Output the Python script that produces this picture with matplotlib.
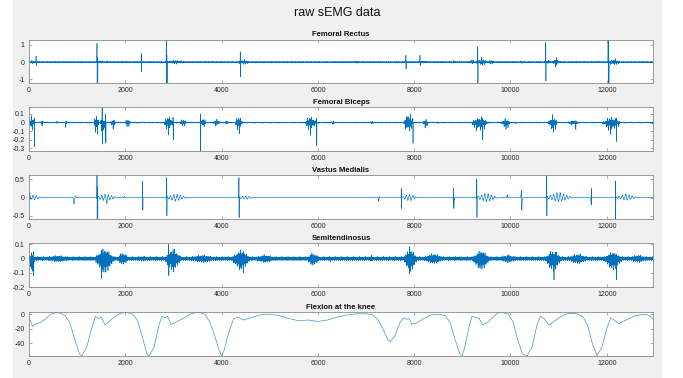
import numpy as np
import matplotlib
matplotlib.use("Agg")
import matplotlib.pyplot as plt
from matplotlib.patches import Rectangle
from matplotlib.ticker import FuncFormatter

plt.rcParams["font.family"] = ["Liberation Sans", "DejaVu Sans"]
plt.rcParams["axes.unicode_minus"] = False

# ---- data ----
n_samples = 12960
step = 4

titles = ["Femoral Rectus", "Femoral Biceps", "Vastus Medialis",
          "Semitendinosus", "Flexion at the knee"]

# bursts: (centre sample, half width, upper amplitude, lower amplitude)
rectus_bursts = [
    (60, 60, 0.12, 0.12), (1480, 80, 0.15, 0.12),
    (1638, 20, 0.15, 0.12), (1950, 20, 0.12, 0.08), (2048, 15, 0.1, 0.08),
    (2490, 15, 0.08, 0.08), (3050, 250, 0.15, 0.12), (4450, 150, 0.2, 0.2),
    (5400, 15, 0.05, 0.05), (6800, 150, 0.08, 0.08), (7330, 15, 0.06, 0.06),
    (7610, 15, 0.07, 0.07), (8200, 100, 0.12, 0.12), (8830, 40, 0.15, 0.15),
    (9200, 60, 0.25, 0.2), (9400, 150, 0.3, 0.25), (9600, 100, 0.15, 0.15),
    (10230, 20, 0.12, 0.12), (10800, 60, 0.2, 0.15), (10950, 80, 0.35, 0.35),
    (11500, 20, 0.06, 0.06), (11800, 20, 0.1, 0.1), (12150, 150, 0.25, 0.25),
]
# spikes: (sample, upper value, lower value)
rectus_spikes = [
    (146, 0.35, 0.2), (1412, 1.1, 1.25), (1424, 0.3, 1.25), (2330, 0.5, 0.55),
    (2850, 1.3, 1.25), (2862, 0.4, 1.25), (4386, 0.6, 0.85), (7826, 0.4, 0.4),
    (8120, 0.4, 0.2), (9320, 0.9, 1.25), (10730, 1.15, 1.1), (12026, 1.35, 1.25),
    (12038, 1.35, 1.25),
]

biceps_bursts = [
    (60, 60, 0.1, 0.12), (270, 40, 0.04, 0.04), (580, 20, 0.03, 0.03),
    (770, 20, 0.04, 0.08), (1400, 60, 0.12, 0.2), (1520, 40, 0.17, 0.25),
    (1580, 20, 0.1, 0.25), (1750, 70, 0.05, 0.08), (2050, 70, 0.05, 0.07),
    (2270, 20, 0.02, 0.03), (2900, 110, 0.1, 0.15), (3200, 100, 0.05, 0.05),
    (3620, 60, 0.08, 0.1), (3900, 90, 0.05, 0.05), (4100, 50, 0.04, 0.04),
    (4360, 90, 0.1, 0.15), (5850, 130, 0.1, 0.15), (6320, 20, 0.03, 0.1),
    (7130, 20, 0.04, 0.04), (7880, 110, 0.15, 0.18), (8230, 70, 0.05, 0.1),
    (8500, 20, 0.02, 0.03), (9360, 200, 0.08, 0.15), (9900, 120, 0.05, 0.1),
    (10100, 20, 0.02, 0.03), (10880, 110, 0.1, 0.15), (11300, 150, 0.03, 0.04),
    (12100, 210, 0.08, 0.15), (12950, 10, 0.02, 0.05),
]
biceps_spikes = [
    (110, 0.05, 0.28), (1520, 0.17, 0.25), (1590, 0.1, 0.24), (2990, 0.06, 0.2),
    (3560, 0.1, 0.33), (5970, 0.05, 0.27), (7970, 0.05, 0.24), (9420, 0.05, 0.2),
    (11350, 0.02, 0.08), (12200, 0.05, 0.22),
]

medialis_bursts = [
    (100, 150, 0.08, 0.07), (940, 40, 0.12, 0.22), (1600, 250, 0.1, 0.1),
    (1620, 15, 0.1, 0.25), (1980, 20, 0.05, 0.1), (3050, 250, 0.1, 0.1),
    (4500, 200, 0.05, 0.05), (7270, 20, 0.1, 0.2), (7900, 180, 0.1, 0.1),
    (8820, 20, 0.25, 0.3), (9500, 250, 0.12, 0.12), (9930, 15, 0.2, 0.1),
    (10230, 20, 0.2, 0.35), (11000, 300, 0.15, 0.12), (11680, 15, 0.25, 0.2),
    (12400, 250, 0.1, 0.08),
]
medialis_spikes = [
    (15, 0.15, 0.05), (1412, 0.62, 0.6), (1424, 0.3, 0.6), (2360, 0.45, 0.35),
    (2860, 0.55, 0.5), (4360, 0.55, 0.55), (7730, 0.25, 0.3), (8820, 0.25, 0.3),
    (9300, 0.5, 0.55), (10230, 0.2, 0.35), (10750, 0.62, 0.5), (11680, 0.25, 0.2),
    (12180, 0.45, 0.6),
]

semiten_bursts = [
    (60, 60, 0.05, 0.12), (600, 500, 0.025, 0.025), (1570, 230, 0.08, 0.12),
    (1950, 150, 0.05, 0.05), (2350, 300, 0.02, 0.02), (2990, 200, 0.08, 0.1),
    (3600, 450, 0.03, 0.03), (4400, 230, 0.065, 0.09), (4900, 350, 0.03, 0.03),
    (5900, 170, 0.045, 0.055), (6270, 40, 0.02, 0.03), (7120, 80, 0.025, 0.025),
    (7920, 170, 0.075, 0.1), (8400, 300, 0.04, 0.04), (9390, 220, 0.065, 0.09),
    (9950, 300, 0.03, 0.03), (10890, 200, 0.07, 0.1), (11400, 300, 0.04, 0.04),
    (12130, 230, 0.055, 0.09), (12650, 300, 0.03, 0.03),
]
semiten_spikes = [
    (90, 0.05, 0.12), (1500, 0.06, 0.14), (2900, 0.1, 0.12), (4450, 0.05, 0.1),
    (7900, 0.085, 0.11), (10900, 0.03, 0.15), (12200, 0.03, 0.15),
]

# per-sample carrier shapes (typed, cycled along the signal)
emg_pattern = [0.15, -0.3, 0.1, -0.2, 0.45, -0.1, 0.25, -0.65, 0.05, -0.15,
               0.3, -0.1, 1.0, -0.4, 0.2, -0.05, 0.12, -0.85, 0.35, -0.2,
               0.08, -0.25, 0.6, -0.12, 0.18, -0.3, 0.05, -1.0, 0.4, -0.15,
               0.22, -0.08, 0.75, -0.5, 0.1, -0.2, 0.3, -0.06, 0.15, -0.35, 0.5]
semi_pattern = [0.35, -0.6, 0.2, -0.45, 0.8, -0.3, 0.5, -1.0, 0.25, -0.4,
                0.6, -0.2, 1.0, -0.7, 0.4, -0.15, 0.3, -0.85, 0.55, -0.35,
                0.15, -0.5, 0.7, -0.25, 0.45, -0.55, 0.1, -0.9, 0.65, -0.3, 0.4]
wave_pattern = [0.0, 0.35, 0.65, 0.9, 1.0, 0.9, 0.65, 0.35, 0.0,
                -0.35, -0.65, -0.9, -1.0, -0.9, -0.65, -0.35, -0.1]

knee_x = [0, 80, 150, 250, 350, 450, 550, 650, 750, 850, 950, 1050, 1100, 1200,
          1300, 1380, 1450, 1500, 1580, 1650, 1750, 1850, 1950, 2050, 2150,
          2250, 2350, 2450, 2500, 2600, 2700, 2760, 2830, 2880, 2950, 3050,
          3200, 3350, 3450, 3550, 3650, 3750, 3850, 3950, 4000, 4050, 4150,
          4250, 4350, 4450, 4600, 4800, 5000, 5200, 5400, 5600, 5800, 6000,
          6200, 6400, 6600, 6800, 7000, 7150, 7250, 7350, 7450, 7500, 7600,
          7700, 7780, 7850, 7900, 7950, 8050, 8200, 8350, 8500, 8650, 8750,
          8850, 8950, 9000, 9050, 9150, 9200, 9300, 9350, 9420, 9550, 9650,
          9750, 9850, 9950, 10050, 10150, 10250, 10350, 10450, 10550, 10620,
          10700, 10800, 10900, 11050, 11200, 11350, 11500, 11600, 11700, 11800,
          11900, 12000, 12080, 12150, 12250, 12400, 12600, 12800, 12900, 12960]
knee_y = [-5, -17, -13, -11, -6, 0, 2, 1.5, -2, -12, -35, -55, -57, -45,
          -20, -3, -6, -4, -15, -11, -5, 0, 2, 2, 0,
          -8, -30, -55, -57, -45, -15, -3, -5, -3, -14, -11,
          -6, 0, 2, 2, 0, -10, -28, -50, -57, -50, -25,
          -6, -4, -8, -5, -1, 0, -2, -6, -9, -8, -10,
          -8, -4, -1, 0.5, 0.5, -1, -8, -20, -35, -38, -30,
          -12, -5, -7, -6, -14, -12, -6, -1, 0, -2, -12,
          -35, -55, -57, -45, -15, -3, -5, -6, -15, -10, -3,
          2, 2, 0, -10, -35, -55, -57, -45, -15, -3,
          -6, -15, -10, -3, 1, 1, -3, -15, -40, -57,
          -45, -20, -5, -8, -13, -8, -2, 0, -3, -7]

y_limits = [(-1.2, 1.32), (-0.33, 0.18), (-0.59, 0.62), (-0.2, 0.11), (-57.5, 3)]
y_ticks = [[-1, 0, 1], [-0.3, -0.2, -0.1, 0, 0.1], [-0.5, 0, 0.5],
           [-0.2, -0.1, 0, 0.1], [-40, -20, 0]]
x_ticks = [0, 2000, 4000, 6000, 8000, 10000, 12000]


def build_signal(t, bursts, spikes, base, pattern):
    upper = np.full(t.shape, base)
    lower = np.full(t.shape, base)
    for c, w, a_up, a_dn in bursts:
        shape = np.clip(1 - np.abs(t - c) / w, 0, 1)
        upper = np.maximum(upper, a_up * shape)
        lower = np.maximum(lower, a_dn * shape)
    p = np.resize(np.array(pattern), t.size)
    y = np.where(p >= 0, upper * p, lower * p)
    for pos, a_up, a_dn in spikes:
        i = min(np.searchsorted(t, pos), t.size - 2)
        y[i] = a_up
        y[i + 1] = -a_dn
    return y


t = np.arange(0, n_samples, step)
signals = [
    build_signal(t, rectus_bursts, rectus_spikes, 0.05, emg_pattern),
    build_signal(t, biceps_bursts, biceps_spikes, 0.008, emg_pattern),
    build_signal(t, medialis_bursts, medialis_spikes, 0.004, wave_pattern),
    build_signal(t, semiten_bursts, semiten_spikes, 0.015, semi_pattern),
]

# ---- figure (pixel layout of the reference) ----
W, H = 683, 378
fig = plt.figure(figsize=(W / 100, H / 100), dpi=100, facecolor="white")
fig.patches.append(Rectangle((13 / W, 0), 649 / W, 1, transform=fig.transFigure,
                             facecolor="#f0f0f0", edgecolor="none", zorder=-5))
fig.text(337.5 / W, 1 - 13 / H, "raw sEMG data", ha="center", va="center",
         fontsize=9, color="#111111")

ax_left, ax_right = 29, 653
ax_rows = [(39.5, 82.7), (107, 151), (175, 219), (243, 287), (312, 356)]
line_color = "#0072BD"
frame_color = "#8a8a8a"
label_color = "#262626"

fmt = FuncFormatter(lambda v, pos: "%g" % v)

for k, (top, bottom) in enumerate(ax_rows):
    ax = fig.add_axes([ax_left / W, 1 - bottom / H, (ax_right - ax_left) / W,
                       (bottom - top) / H])
    ax.set_facecolor("white")
    if k < 4:
        ax.plot(t, signals[k], color=line_color, linewidth=0.45)
    else:
        ax.plot(knee_x, knee_y, color=line_color, linewidth=0.5, alpha=0.75)
    ax.set_xlim(0, n_samples)
    ax.set_ylim(*y_limits[k])
    ax.set_xticks(x_ticks)
    ax.set_yticks(y_ticks[k])
    ax.xaxis.set_major_formatter(fmt)
    ax.yaxis.set_major_formatter(fmt)
    ax.tick_params(direction="in", length=2.2, width=0.5, color=frame_color,
                   labelsize=5, labelcolor=label_color, pad=3,
                   top=True, right=True)
    for s in ax.spines.values():
        s.set_color(frame_color)
        s.set_linewidth(0.6)
    ax.set_title(titles[k], fontsize=5.5, fontweight="bold", pad=2.5,
                 color="#111111")

fig.savefig("out.png", dpi=100, facecolor=fig.get_facecolor())
